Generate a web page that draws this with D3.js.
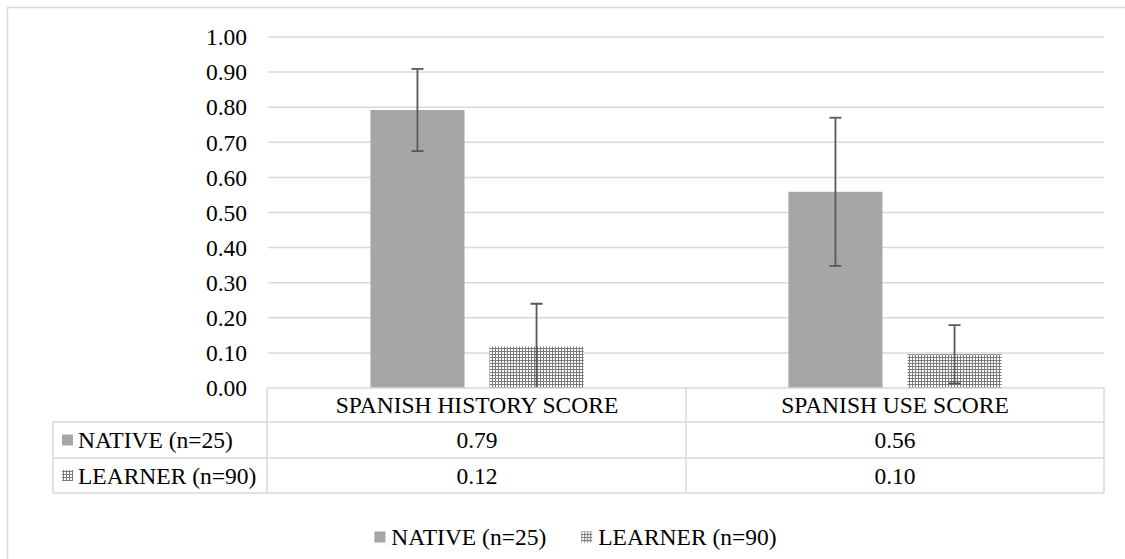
<!DOCTYPE html>
<html>
<head>
<meta charset="utf-8">
<script src="https://cdn.jsdelivr.net/npm/d3@7/dist/d3.min.js"></script>
<style>
  html, body { margin: 0; padding: 0; background: #fff; }
  svg { display: block; }
</style>
</head>
<body>
<script>
// ---- data ----
const categories = ["SPANISH HISTORY SCORE", "SPANISH USE SCORE"];
const seriesNames = ["NATIVE (n=25)", "LEARNER (n=90)"];
const nativeValues = [0.792, 0.559];
const learnerValues = [0.118, 0.096];
const nativeErrors = [0.117, 0.211];
const learnerErrors = [0.122, 0.083];
const tableLabels = [["0.79", "0.56"], ["0.12", "0.10"]];
const yTicks = [0, 0.1, 0.2, 0.3, 0.4, 0.5, 0.6, 0.7, 0.8, 0.9, 1.0];

const W = 1125, H = 559;
const FONT = 23.5;
const FAMILY = "'Liberation Serif', 'Times New Roman', 'DejaVu Serif', serif";
const grid = "#d9d9d9";

const svg = d3.select("body").append("svg").attr("width", W).attr("height", H)
  .attr("font-family", FAMILY).style("font-family", FAMILY);

const defs = svg.append("defs");
const pat = defs.append("pattern").attr("id", "dots").attr("patternUnits", "userSpaceOnUse")
  .attr("width", 3).attr("height", 3);
pat.append("rect").attr("width", 3).attr("height", 3).attr("fill", "#7a7a7a");
pat.append("rect").attr("x", 1).attr("y", 1).attr("width", 2).attr("height", 2).attr("fill", "#ffffff");

// outer border
svg.append("rect").attr("x", 7.5).attr("y", 7.5).attr("width", W + 20).attr("height", H + 20)
  .attr("fill", "none").attr("stroke", grid).attr("stroke-width", 1.5);

const plotL = 268, plotR = 1104, plotT = 37, plotB = 388;
const x0 = d3.scaleBand().domain(categories).range([plotL, plotR]);
const y = d3.scaleLinear().domain([0, 1]).range([plotB, plotT]);
const groupFrac = 0.51;
const x1 = d3.scaleBand().domain(seriesNames)
  .range([x0.bandwidth() * (1 - groupFrac) / 2, x0.bandwidth() * (1 + groupFrac) / 2])
  .paddingInner(0.21);

function txt(sel) {
  return sel.attr("font-family", FAMILY).style("font-family", FAMILY)
    .attr("font-size", FONT).attr("fill", "#000");
}

// gridlines
svg.append("g").selectAll("line").data(yTicks.filter(d => d > 0)).join("line")
  .attr("x1", plotL).attr("x2", plotR)
  .attr("y1", d => y(d)).attr("y2", d => y(d))
  .attr("stroke", grid).attr("stroke-width", 1.5);

// y tick labels
txt(svg.append("g").selectAll("text").data(yTicks).join("text")
  .attr("x", 247).attr("y", d => y(d)).attr("dy", "0.35em")
  .attr("text-anchor", "end"))
  .text(d => d3.format(".2f")(d));

// bars
const seriesData = [
  { name: seriesNames[0], values: nativeValues, errs: nativeErrors, fill: "#a6a6a6" },
  { name: seriesNames[1], values: learnerValues, errs: learnerErrors, fill: "url(#dots)" }
];

defs.append("clipPath").attr("id", "plotclip").append("rect")
  .attr("x", plotL).attr("y", 0).attr("width", plotR - plotL).attr("height", plotB - 0.5);

const barsG = svg.append("g");
seriesData.forEach(s => {
  barsG.selectAll(null).data(categories).join("rect")
    .attr("x", (c) => x0(c) + x1(s.name))
    .attr("width", x1.bandwidth())
    .attr("y", (c, i) => y(s.values[i]))
    .attr("height", (c, i) => y(0) - y(s.values[i]))
    .attr("fill", s.fill);
});

// error bars
const errG = svg.append("g").attr("clip-path", "url(#plotclip)")
  .attr("stroke", "#595959").attr("stroke-width", 1.8);
seriesData.forEach(s => {
  categories.forEach((c, i) => {
    const cx = x0(c) + x1(s.name) + x1.bandwidth() / 2;
    const hi = s.values[i] + s.errs[i], lo = s.values[i] - s.errs[i];
    errG.append("line").attr("x1", cx).attr("x2", cx).attr("y1", y(hi)).attr("y2", y(lo));
    errG.append("line").attr("x1", cx - 6).attr("x2", cx + 6).attr("y1", y(hi)).attr("y2", y(hi));
    if (lo > 0.005) errG.append("line").attr("x1", cx - 6).attr("x2", cx + 6).attr("y1", y(lo)).attr("y2", y(lo));
  });
});

// data table
const tblL = 53;
const rowY = [388, 422, 458, 493];
const tG = svg.append("g").attr("stroke", grid).attr("stroke-width", 1.5).attr("fill", "none");
tG.append("line").attr("x1", plotL - 1).attr("x2", plotR).attr("y1", rowY[0]).attr("y2", rowY[0]);
[1, 2, 3].forEach(r => tG.append("line").attr("x1", tblL).attr("x2", plotR).attr("y1", rowY[r]).attr("y2", rowY[r]));
tG.append("line").attr("x1", tblL).attr("x2", tblL).attr("y1", rowY[1]).attr("y2", rowY[3]);
[plotL - 1, x0(categories[1]), plotR].forEach(xx =>
  tG.append("line").attr("x1", xx).attr("x2", xx).attr("y1", rowY[0]).attr("y2", rowY[3]));

// category header
txt(svg.append("g").selectAll("text").data(categories).join("text")
  .attr("x", c => x0(c) + x0.bandwidth() / 2).attr("y", (rowY[0] + rowY[1]) / 2).attr("dy", "0.35em")
  .attr("text-anchor", "middle")).text(c => c);

// rows
seriesData.forEach((s, r) => {
  const cy = (rowY[r + 1] + rowY[r + 2]) / 2;
  svg.append("rect").attr("x", 62).attr("y", cy - 5.5).attr("width", 11).attr("height", 11).attr("fill", s.fill);
  txt(svg.append("text").attr("x", 78).attr("y", cy).attr("dy", "0.35em")).text(s.name);
  categories.forEach((c, i) => {
    txt(svg.append("text").attr("x", x0(c) + x0.bandwidth() / 2).attr("y", cy).attr("dy", "0.35em")
      .attr("text-anchor", "middle")).text(tableLabels[r][i]);
  });
});

// legend
const legG = svg.append("g");
let lx = 0;
seriesData.forEach((s, i) => {
  const g = legG.append("g").attr("transform", `translate(${lx},0)`);
  g.append("rect").attr("x", 0).attr("y", -5.5).attr("width", 11).attr("height", 11).attr("fill", s.fill);
  const t = txt(g.append("text").attr("x", 17).attr("dy", "0.35em")).text(s.name);
  const w = 17 + t.node().getComputedTextLength();
  lx += w + 35;
});
const legW = lx - 35;
legG.attr("transform", `translate(${575.5 - legW / 2},537)`);
</script>
</body>
</html>
